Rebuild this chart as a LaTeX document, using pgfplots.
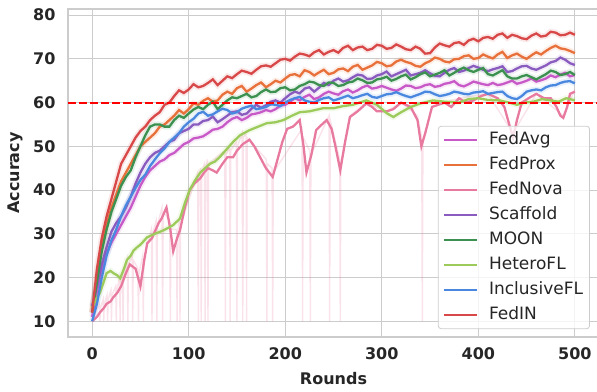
\documentclass[border=0pt]{standalone}
\usepackage{pgfplots}
\pgfplotsset{compat=1.18}
\usepackage{pgfplotstable}
\usepackage{fontspec}
\setmainfont{DejaVu Sans}
\definecolor{cAvg}{HTML}{C85AC8}
\definecolor{cProx}{HTML}{E8703A}
\definecolor{cNova}{HTML}{E87AA0}
\definecolor{cScaf}{HTML}{8A5CBF}
\definecolor{cMoon}{HTML}{3C9150}
\definecolor{cHet}{HTML}{9CCB5C}
\definecolor{cIncl}{HTML}{4A88E0}
\definecolor{cIN}{HTML}{D94848}
\definecolor{gridgray}{HTML}{CCCCCC}
\definecolor{txtgray}{HTML}{262626}

\pgfplotstableread{
x y
0 12
5 22
10 29
15 34
20 38
25 42
30 46
35 48
40 50
45 52
50 53.5
55 54.5
60 56
65 57
70 57.8
75 59.5
80 60
85 61.5
90 62.8
95 62.2
100 63
105 64.2
110 63.5
115 63.8
120 64.5
125 65.3
130 64
135 65
140 66
145 65.6
150 66.5
155 67.3
160 67
165 66.6
170 67.5
175 68.3
180 68.5
185 68.2
190 69
195 69.8
200 70
205 69.6
210 70.5
215 71.2
220 71
225 70.6
230 71.5
235 72
240 71
245 71.6
250 72
255 71.4
260 72.5
265 73
270 72
275 72.6
280 72.8
285 72
290 72.3
295 73.2
300 73
305 72.3
310 72.5
315 73.3
320 72.8
325 72.2
330 72
335 72.8
340 72.3
345 71.2
350 71.3
355 72.6
360 73.5
365 73.1
370 72.8
375 73.6
380 73.8
385 73.2
390 74.2
395 74.6
400 74
405 74.8
410 75
415 74.6
420 75.5
425 75.8
430 74.8
435 75.5
440 75.2
445 74.7
450 74.5
455 75.3
460 75.8
465 75.1
470 75.3
475 76.2
480 76
485 75.4
490 75.5
495 76
500 75.5
}\tabIN

\pgfplotstableread{
x y
0 12
5 20
10 27
15 32
20 36
25 39
30 42
35 44
40 46
45 48
50 50
55 51
60 52
65 53
70 54.5
75 55
80 56
85 57
90 58.3
95 57.5
100 58.5
105 59.8
110 59.5
115 60.4
120 61
125 60.2
130 60.5
135 61.8
140 62.5
145 62
150 63.3
155 63.8
160 62.5
165 63.2
170 64
175 64.6
180 63.5
185 64.2
190 65
195 64.6
200 65.5
205 66.3
210 66.5
215 66
220 67.4
225 67
230 66.2
235 66.9
240 67.5
245 66.5
250 66.8
255 67.6
260 67.8
265 67.2
270 68.2
275 68.6
280 67.5
285 68
290 68.5
295 69.3
300 69
305 68.3
310 68.5
315 69.4
320 69.8
325 69.3
330 69
335 68.4
340 68.2
345 69
350 69.5
355 70.3
360 70
365 69.4
370 69.2
375 69.9
380 70
385 70.6
390 70.8
395 70
400 70.2
405 71
410 70.5
415 70.1
420 71
425 71.6
430 70.2
435 70.8
440 71.2
445 70.5
450 70
455 70.8
460 71.5
465 71
470 71.8
475 72.5
480 73
485 72.4
490 72.2
495 71.8
500 71.3
}\tabProx

\pgfplotstableread{
x y
0 13.5
5 18
10 23
15 27
20 30.5
25 32.5
30 34
35 36
40 38.5
45 41.5
50 44
55 46
60 47.5
65 48.5
70 49
75 50
80 51
85 51.5
90 53
95 53.5
100 54
105 55
110 55
115 55.8
120 56
125 56.8
130 55.5
135 56.2
140 57
145 57.8
150 58
155 57.2
160 57.5
165 58.6
170 59.5
175 58.8
180 59.4
185 60.2
190 60.5
195 60
200 61
205 61.9
210 62.5
215 62.1
220 63.2
225 63.5
230 62.5
235 63.4
240 64.5
245 64
250 65
255 65.5
260 64.8
265 65.1
270 65.8
275 66.4
280 66.2
285 65.4
290 65.5
295 66.2
300 66.5
305 67.1
310 66
315 66.5
320 67
325 67.5
330 66.2
335 66.5
340 66.8
345 67.4
350 66.7
355 66.1
360 66
365 66.8
370 67.5
375 67.9
380 67
385 67.3
390 67.9
395 68.4
400 68
405 67.5
410 67.2
415 67.6
420 67.9
425 68.3
430 67
435 67.2
440 67.8
445 68.3
450 68.4
455 67.8
460 67.5
465 68
470 68.5
475 69.2
480 69.5
485 70.3
490 69.8
495 69
500 68.6
}\tabScaf

\pgfplotstableread{
x y
0 12
5 19
10 26
15 31
20 35
25 38
30 41
35 43
40 44.5
45 47.5
50 50
55 52.5
60 54.5
65 55
70 55
75 54.5
80 54.5
85 56
90 57
95 56.5
100 57.5
105 58.4
110 59
115 58.5
120 59.5
125 60.2
130 58.5
135 59.5
140 60.5
145 61.2
150 61
155 61.5
160 62
165 61.2
170 61.5
175 62.4
180 63
185 62.4
190 62.5
195 63.3
200 63.5
205 62.8
210 63
215 63.8
220 64.2
225 64.8
230 64.6
235 64
240 63.8
245 64.6
250 64.5
255 63.8
260 64
265 64.6
270 64.8
275 65.5
280 65.1
285 64.5
290 64.6
295 65.3
300 65.5
305 65.9
310 65
315 65.4
320 66
325 66.4
330 65.3
335 65.8
340 66.5
345 66.9
350 66
355 66.4
360 66.8
365 67.4
370 66.2
375 66.8
380 67.5
385 68
390 67.4
395 67
400 67.5
405 67.9
410 66.5
415 66.2
420 66.8
425 67.4
430 66
435 65.5
440 65.5
445 66
450 66.3
455 65.8
460 65.3
465 65.9
470 66.5
475 67.3
480 67
485 66.3
490 66.5
495 67
500 66.3
}\tabMoon

\pgfplotstableread{
x y
0 11
5 17
10 22
15 25.5
20 28
25 30
30 32
35 34
40 36
45 38.5
50 41
55 43
60 44.5
65 45.5
70 46.5
75 47
80 48
85 48.5
90 49.5
95 50.5
100 51
105 51.8
110 52
115 52.3
120 53
125 53.8
130 54
135 54.5
140 55.5
145 56.3
150 56.7
155 56
160 56.5
165 57.3
170 57.5
175 57.8
180 58.3
185 58
190 58.5
195 59.3
200 59.5
205 60.2
210 61
215 60.5
220 61.3
225 61.8
230 60.8
235 61.2
240 62
245 62.5
250 62.1
255 61.8
260 62.6
265 63
270 62.3
275 62.8
280 63.5
285 63.9
290 63.2
295 63.4
300 63.8
305 63.4
310 63
315 62.7
320 63.2
325 63.9
330 63.8
335 63.3
340 63.5
345 64
350 64.2
355 63.6
360 63.8
365 64.3
370 64.5
375 64.9
380 64
385 63.7
390 64.2
395 64.8
400 64.5
405 64.2
410 64
415 64.5
420 64
425 64.2
430 64.6
435 65
440 64.3
445 64.6
450 65
455 65.5
460 64.8
465 65.1
470 65.5
475 66.2
480 65.8
485 66.4
490 66.8
495 66
500 66.3
}\tabAvg

\pgfplotstableread{
x y
0 10
5 14
10 20
15 25
20 28.5
25 31
30 34
35 36.5
40 38.5
45 40.5
50 42.3
55 43.5
60 45.5
65 47
70 48.4
75 49.5
80 51
85 52
90 53
95 54.5
100 55.5
105 56.3
110 57.5
115 57.9
120 57
125 57.3
130 58
135 58.6
140 58.3
145 57.5
150 57.8
155 58.6
160 59
165 59.3
170 58.5
175 58.7
180 59
185 59.6
190 59.5
195 59.2
200 60
205 60.6
210 61
215 61.3
220 60.5
225 60.2
230 60
235 60.6
240 61
245 61.2
250 60.5
255 60.8
260 61.2
265 61.6
270 61
275 61.3
280 61.7
285 62
290 61.3
295 61.1
300 61.5
305 61.9
310 62
315 62.4
320 61.9
325 61.5
330 61.2
335 61.6
340 62
345 62.5
350 62.4
355 61.9
360 61.5
365 61.7
370 62
375 62.5
380 62.3
385 62
390 61.9
395 62.3
400 62.4
405 62.6
410 62
415 62.2
420 62.4
425 62.5
430 61.5
435 61
440 60.8
445 61.5
450 62.5
455 62.8
460 63
465 62.8
470 63.5
475 63.9
480 64
485 64.5
490 64.8
495 64.9
500 64.4
}\tabIncl

\pgfplotstableread{
x y
0 13
4 15
8 16.5
12 19
15 21
19 21.5
22 21
26 20.5
29 19.8
33 22
36 24
40 25
43 26.2
47 27
50 27.5
57 29.2
65 30
74 30.8
80 31.5
84 32
91 33.5
96 37
101 40
106 42
112 44
117 45
122 46
127 46.5
132 47.5
140 49.5
146 51
153 52.5
163 53.7
172 54.5
181 55.3
190 55.5
198 56
207 57
215 57.8
225 58
239 58.7
250 58.7
260 59.2
270 59.5
284 60.5
295 59.5
305 57.6
312 56.7
320 57.8
330 59
340 59.8
353 60.5
365 60.2
380 60
390 60.8
400 61
410 60.6
422 60.5
432 60
440 59.5
448 60
457 60.2
466 60.8
475 60.5
483 60.2
491 61
500 60.5
}\tabHet

\pgfplotstableread{
x y
0 10
5 11
8 12
12 13
15 14
19 14.5
22 15.5
26 16.5
30 18
35 21
39 23
45 22
50 18
54 24
57 27.8
62 29
65 30.5
69 32.5
72 33.5
77 36
81 31
84 26
88 29
91 30.8
96 36
101 40
106 41.5
112 42.7
116 44
120 45
125 44.5
129 44
135 46
140 47.5
146 47.5
150 49
156 50.5
163 51.5
168 50
174 47.5
180 45
187 43
192 47
197 51
202 54
208 54.5
215 56
219 50
222 44
227 48
232 53.7
238 55
243 56
248 54
252 50
257 44.5
262 51
267 56.7
275 58
284 59.8
290 59
295 58
305 58
312 58.5
320 60
330 59
337 56
341 50
345 53
352 59
365 60
372 59
380 61
387 60
395 60.5
403 61.5
410 62
415 61.5
420 61
427 59
432 55
436 52
440 56
445 60
452 61
460 62
468 61
475 61
481 59
485 57
488 56.5
492 59
495 62
500 62.5
}\tabNova

\begin{document}
\begin{tikzpicture}
\begin{axis}[
  scale only axis, width=531pt, height=328pt,
  xmin=-25, xmax=525, ymin=6.4, ymax=81.4,
  xtick={0,100,...,500}, ytick={10,20,...,80},
  grid=major,
  major grid style={color=gridgray, line width=1.1pt},
  axis line style={color=gridgray, line width=1.25pt},
  major tick length=0pt,
  /pgf/number format/assume math mode=true,
  tick label style={font=\fontsize{16}{19}\selectfont\bfseries, text=txtgray},
  yticklabel style={xshift=-9pt},
  xticklabel style={yshift=-7pt},
  xlabel={Rounds}, ylabel={Accuracy},
  label style={font=\fontsize{16}{19}\selectfont\bfseries, text=txtgray},
  xlabel style={at={(axis description cs:0.5,-0.1433)}, anchor=base},
  ylabel style={at={(axis description cs:-0.0998,0.5)}, anchor=center},
  legend style={at={(0.983,0.024)}, anchor=south east, draw=gridgray,
    line width=0.8pt, rounded corners=3pt, fill=white, fill opacity=0.8,
    text opacity=1, font=\fontsize{17}{20}\selectfont, text=txtgray,
    row sep=5.5pt, inner xsep=5pt, inner ysep=4pt,
    nodes={inner sep=1.5pt, text height=13pt, text depth=3.5pt},
    /tikz/every odd column/.append style={column sep=9pt}},
  legend cell align=left,
  legend image code/.code={\draw[#1, line width=2.3pt] (0pt,0pt) -- (33pt,0pt);},
]
% faint bands (raw curves)
\addplot[cAvg, line width=6pt, opacity=0.12, forget plot] table {\tabAvg};
\addplot[cProx, line width=6pt, opacity=0.12, forget plot] table {\tabProx};
\addplot[cScaf, line width=6pt, opacity=0.12, forget plot] table {\tabScaf};
\addplot[cMoon, line width=6pt, opacity=0.12, forget plot] table {\tabMoon};
\addplot[cHet, line width=6pt, opacity=0.12, forget plot] table {\tabHet};
\addplot[cIncl, line width=6pt, opacity=0.12, forget plot] table {\tabIncl};
\addplot[cIN, line width=6pt, opacity=0.12, forget plot] table {\tabIN};
\addplot[cNova, line width=1.4pt, opacity=0.22, forget plot] coordinates {
(0,10) (7.4,14) (8,10) (8.6,13) (11.4,15) (12,10) (12.6,14) (15.4,16) (16,10) (16.6,15)
(19.4,17) (20,10) (20.6,16) (24.4,18) (25,10) (25.6,17) (28.4,20) (29,10) (29.6,19)
(31.4,21) (32,10) (32.6,20) (36.4,24) (37,10) (37.6,23) (41.4,25) (42,10) (42.6,24)
(47.4,22) (48,10) (48.6,21) (52.4,25) (53,10) (53.6,24) (61.4,31) (62,10) (62.6,30)
(66.4,33) (67,10) (67.6,32) (72.4,36) (73,10) (73.6,35) (80.4,33) (81,10) (81.6,31)
(87.4,31) (88,10) (88.6,30) (90.4,33) (91,10) (91.6,32) (109.4,44) (110,10) (110.6,43)
(112.4,45) (113,10) (113.6,44) (116.4,46) (117,10) (117.6,45) (119.4,47) (120,10) (120.6,46)
(137.4,49) (138,10) (138.6,48) (142.4,50) (143,10) (143.6,49) (149.4,51) (150,10) (150.6,50)
(155.4,53) (156,10) (156.6,52) (159.4,53) (160,10) (160.6,52) (180.4,47) (181,10) (181.6,46)
(186.4,45) (187,10) (187.6,44) (217.4,54) (218,10) (218.6,52) (225.4,49) (226,10) (226.6,48)
(245.4,57) (246,10) (246.6,56) (256.4,47) (257,10) (257.6,46) (267,57) (284,60) (305,58)
(320,60) (337,57) (341.4,52) (342,10) (342.6,51) (352,59) (380,61) (410,62) (436,53)
(460,62) (488,57) (500,63)};
% smoothed curves
\addplot[cAvg, line width=2.3pt] table {\tabAvg};
\addlegendentry{FedAvg}
\addplot[cProx, line width=2.3pt] table {\tabProx};
\addlegendentry{FedProx}
\addplot[cNova, line width=2.3pt] table {\tabNova};
\addlegendentry{FedNova}
\addplot[cScaf, line width=2.3pt] table {\tabScaf};
\addlegendentry{Scaffold}
\addplot[cMoon, line width=2.3pt] table {\tabMoon};
\addlegendentry{MOON}
\addplot[cHet, line width=2.3pt] table {\tabHet};
\addlegendentry{HeteroFL}
\addplot[cIncl, line width=2.3pt] table {\tabIncl};
\addlegendentry{InclusiveFL}
\addplot[cIN, line width=2.3pt] table {\tabIN};
\addlegendentry{FedIN}
\addplot[red, line width=2pt, dash pattern=on 7.5pt off 3.5pt, forget plot] coordinates {(-25,60) (525,60)};
\end{axis}
\pgfresetboundingbox
\path[use as bounding box] (-68pt,-54pt) rectangle (529pt,337pt);
\end{tikzpicture}
\end{document}
